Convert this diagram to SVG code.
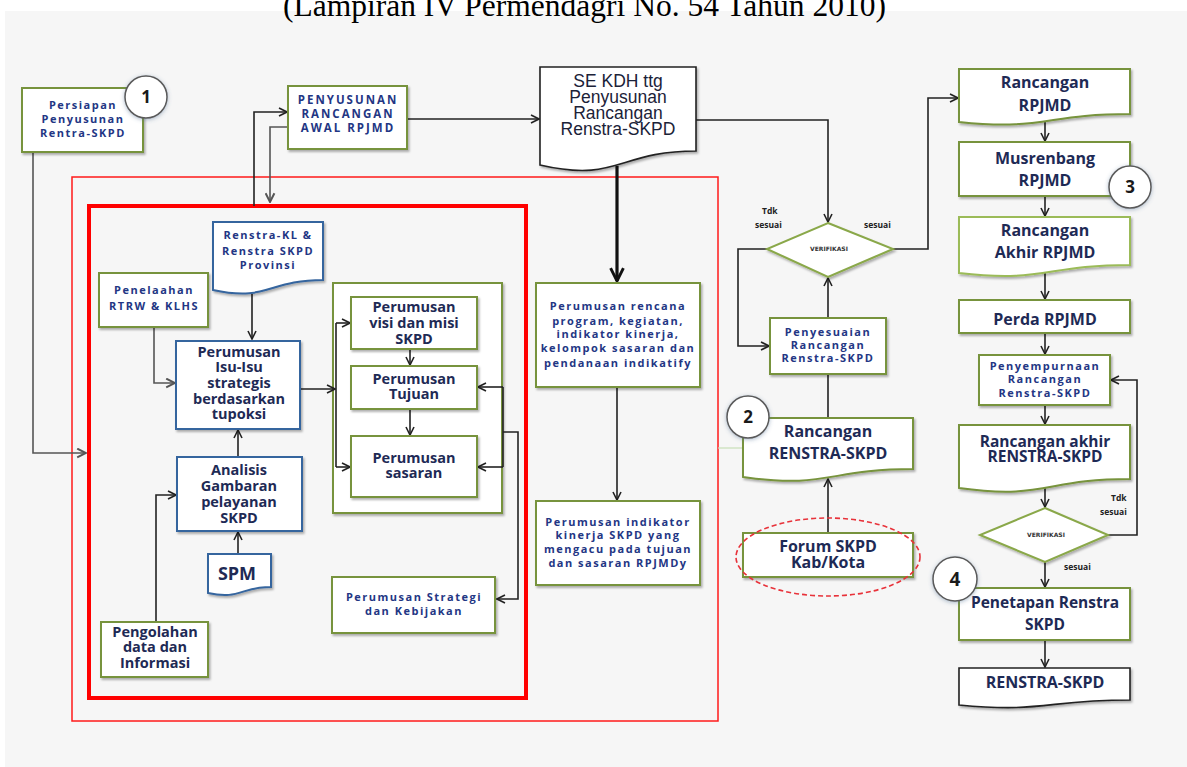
<svg xmlns="http://www.w3.org/2000/svg" width="1187" height="767" viewBox="0 0 1187 767">
  <defs>
    <style>
      .bg { fill: #f6f6f6; }
      .gbox { fill: #ffffff; stroke: #77933c; stroke-width: 2; }
      .lgbox { fill: #ffffff; stroke: #9bbb59; stroke-width: 2; }
      .bbox { fill: #ffffff; stroke: #36659e; stroke-width: 2; }
      .kbox { fill: #ffffff; stroke: #222222; stroke-width: 1.6; }
      .dia { fill: #ffffff; stroke: #8aa84a; stroke-width: 2; }
      .num { fill: #ffffff; stroke: #5a5a5a; stroke-width: 1.5; }
      .numt { font-family: "Open Sans", "DejaVu Sans", sans-serif; font-weight: 700; font-size: 17px; fill: #1a1a1a; text-anchor: middle; }
      .sm { font-family: "Open Sans", "DejaVu Sans", sans-serif; font-weight: 700; font-size: 11px; letter-spacing: 1.5px; fill: #233684; text-anchor: middle; }
      .md { font-family: "Open Sans", "DejaVu Sans", sans-serif; font-weight: 700; font-size: 14.5px; fill: #1e2a55; text-anchor: middle; }
      .lg { font-family: "Open Sans", "DejaVu Sans", sans-serif; font-weight: 700; font-size: 16px; fill: #1e2a55; text-anchor: middle; }
      .se { font-family: "Liberation Sans", Arial, sans-serif; font-size: 17.5px; fill: #1b2238; text-anchor: middle; }
      .tiny { font-family: "Open Sans", "DejaVu Sans", sans-serif; font-weight: 700; font-size: 8.5px; fill: #222222; }
      .ver { font-family: "DejaVu Sans", sans-serif; font-weight: 700; font-size: 6px; fill: #333333; text-anchor: middle; }
      .title { font-family: "Liberation Serif", "Times New Roman", serif; font-size: 31.5px; fill: #000000; }
      .ln { fill: none; stroke: #222222; stroke-width: 1.6; }
      .lng { fill: none; stroke: #555555; stroke-width: 1.6; }
    </style>
    <filter id="sh" x="-10%" y="-10%" width="125%" height="130%">
      <feDropShadow dx="1.5" dy="2" stdDeviation="1.3" flood-color="#000000" flood-opacity="0.3"/>
    </filter>
    <filter id="glow" x="-30%" y="-30%" width="160%" height="160%">
      <feDropShadow dx="0" dy="1" stdDeviation="2" flood-color="#4a6a90" flood-opacity="0.45"/>
    </filter>
    <marker id="ah" viewBox="0 0 10 10" refX="9" refY="5" markerWidth="10" markerHeight="10" markerUnits="userSpaceOnUse" orient="auto">
      <path d="M1,1 L9,5 L1,9" fill="none" stroke="#222222" stroke-width="1.6"/>
    </marker>
    <marker id="ahg" viewBox="0 0 10 10" refX="9" refY="5" markerWidth="11" markerHeight="11" markerUnits="userSpaceOnUse" orient="auto">
      <path d="M1,1 L9,5 L1,9" fill="none" stroke="#555555" stroke-width="1.8"/>
    </marker>
    <marker id="ahb" viewBox="0 0 10 10" refX="9" refY="5" markerWidth="16" markerHeight="16" markerUnits="userSpaceOnUse" orient="auto">
      <path d="M1,1 L9,5 L1,9" fill="none" stroke="#111111" stroke-width="1.8"/>
    </marker>
  </defs>

  <!-- page -->
  <rect x="0" y="0" width="1187" height="767" fill="#ffffff"/>
  <rect class="bg" x="5" y="11" width="1182" height="756"/>
  <text class="title" x="283" y="16">(Lampiran IV Permendagri No. 54 Tahun 2010)</text>

  <!-- frames -->
  <rect x="72" y="177" width="646" height="544" fill="none" stroke="#ff1a1a" stroke-width="1.5"/>
  <rect x="89" y="206" width="437" height="492" fill="none" stroke="#ff0000" stroke-width="4"/>
  <rect class="gbox" x="333" y="283" width="169" height="230" filter="url(#sh)"/>

  <!-- connectors -->
  <g id="connectors">
    <polyline class="lng" points="33,152 33,453 86,453" marker-end="url(#ahg)"/>
    <polyline class="ln" points="254,206 254,112 287,112" marker-end="url(#ah)"/>
    <polyline class="lng" points="288,127 270,127 270,202" marker-end="url(#ahg)"/>
    <line class="ln" x1="407" y1="119" x2="539" y2="119" marker-end="url(#ah)"/>
    <polyline class="ln" points="696,120 828,120 828,222" marker-end="url(#ah)"/>
    <line x1="617" y1="166" x2="617" y2="281" fill="none" stroke="#111111" stroke-width="3.2" marker-end="url(#ahb)"/>
    <line class="ln" x1="617" y1="387" x2="617" y2="500" marker-end="url(#ah)"/>
    <polyline class="ln" points="893,249 928,249 928,98 958,98" marker-end="url(#ah)"/>
    <polyline class="ln" points="767,249 738,249 738,346 769,346" marker-end="url(#ah)"/>
    <line class="ln" x1="828" y1="318" x2="828" y2="278" marker-end="url(#ah)"/>
    <line class="ln" x1="828" y1="418" x2="828" y2="374"/>
    <line class="ln" x1="828" y1="533" x2="828" y2="479" marker-end="url(#ah)"/>
    <line x1="718" y1="448" x2="743" y2="448" stroke="#c8e0b8" stroke-width="1.2"/>
    <line class="ln" x1="1045" y1="122" x2="1045" y2="141" marker-end="url(#ah)"/>
    <line class="ln" x1="1045" y1="196" x2="1045" y2="216" marker-end="url(#ah)"/>
    <line class="ln" x1="1045" y1="273" x2="1045" y2="299" marker-end="url(#ah)"/>
    <line class="ln" x1="1045" y1="333" x2="1045" y2="354" marker-end="url(#ah)"/>
    <line class="ln" x1="1045" y1="405" x2="1045" y2="424" marker-end="url(#ah)"/>
    <line class="ln" x1="1045" y1="488" x2="1045" y2="507" marker-end="url(#ah)"/>
    <line class="ln" x1="1045" y1="562" x2="1045" y2="587" marker-end="url(#ah)"/>
    <line class="ln" x1="1045" y1="640" x2="1045" y2="667" marker-end="url(#ah)"/>
    <polyline class="ln" points="1108,535 1137,535 1137,380 1111,380" marker-end="url(#ah)"/>
    <line class="ln" x1="252" y1="294" x2="252" y2="339" marker-end="url(#ah)"/>
    <polyline class="lng" points="154,327 154,383 175,383" marker-end="url(#ahg)"/>
    <line class="ln" x1="300" y1="389" x2="335" y2="389" marker-end="url(#ah)"/>
    <line class="ln" x1="336" y1="323" x2="336" y2="467"/>
    <line class="ln" x1="336" y1="323" x2="350" y2="323" marker-end="url(#ah)"/>
    <line class="ln" x1="336" y1="467" x2="350" y2="467" marker-end="url(#ah)"/>
    <line class="ln" x1="410" y1="349" x2="410" y2="365" marker-end="url(#ah)"/>
    <line class="ln" x1="410" y1="409" x2="410" y2="435" marker-end="url(#ah)"/>
    <line class="ln" x1="503" y1="387" x2="503" y2="467"/>
    <line class="ln" x1="503" y1="387" x2="478" y2="387" marker-end="url(#ah)"/>
    <line class="ln" x1="503" y1="467" x2="478" y2="467" marker-end="url(#ah)"/>
    <polyline class="ln" points="503,432 518,432 518,599 497,599" marker-end="url(#ah)"/>
    <line class="ln" x1="238" y1="457" x2="238" y2="430" marker-end="url(#ah)"/>
    <line class="ln" x1="238" y1="554" x2="238" y2="532" marker-end="url(#ah)"/>
    <polyline class="ln" points="156,622 156,495 176,495" marker-end="url(#ah)"/>
  </g>

  <!-- nodes -->
  <g id="persiapan">
    <rect class="gbox" x="22" y="88" width="121" height="64" filter="url(#sh)"/>
    <text class="sm" x="83" y="109">Persiapan</text>
    <text class="sm" x="83" y="123">Penyusunan</text>
    <text class="sm" x="83" y="137">Rentra-SKPD</text>
  </g>
  <g id="badge-1">
    <circle class="num" cx="146" cy="97" r="21" filter="url(#glow)"/>
    <text class="numt" x="146" y="103">1</text>
  </g>

  <g id="penyusunan-awal">
    <rect class="gbox" x="288" y="86" width="119" height="63" filter="url(#sh)"/>
    <text class="sm" x="348" y="104" style="font-size:11.5px;letter-spacing:2px">PENYUSUNAN</text>
    <text class="sm" x="348" y="118" style="font-size:11.5px;letter-spacing:2px">RANCANGAN</text>
    <text class="sm" x="348" y="132" style="font-size:11.5px;letter-spacing:2px">AWAL  RPJMD</text>
  </g>

  <g id="se-kdh">
    <path class="kbox" d="M540,67 H696 V151 C618,151 618,183 540,165 Z" filter="url(#sh)"/>
    <text class="se" x="618" y="87">SE KDH  ttg</text>
    <text class="se" x="618" y="103">Penyusunan</text>
    <text class="se" x="618" y="119">Rancangan</text>
    <text class="se" x="618" y="135">Renstra-SKPD</text>
  </g>

  <g id="renstra-kl">
    <path class="bbox" d="M213,222 H323 V280 C268,280 268,302 213,290 Z" filter="url(#sh)"/>
    <text class="sm" x="268" y="239">Renstra-KL &amp;</text>
    <text class="sm" x="268" y="255">Renstra SKPD</text>
    <text class="sm" x="268" y="269">Provinsi</text>
  </g>

  <g id="penelaahan">
    <rect class="gbox" x="99" y="273" width="109" height="54" filter="url(#sh)"/>
    <text class="sm" x="154" y="294">Penelaahan</text>
    <text class="sm" x="154" y="310">RTRW  &amp; KLHS</text>
  </g>

  <g id="isu-strategis">
    <rect class="bbox" x="176" y="341" width="124" height="88" filter="url(#sh)"/>
    <text class="md" x="239" y="357">Perumusan</text>
    <text class="md" x="239" y="372">Isu-Isu</text>
    <text class="md" x="239" y="388">strategis</text>
    <text class="md" x="239" y="404">berdasarkan</text>
    <text class="md" x="239" y="419">tupoksi</text>
  </g>

  <g id="analisis">
    <rect class="bbox" x="177" y="457" width="125" height="74" filter="url(#sh)"/>
    <text class="md" x="239" y="475">Analisis</text>
    <text class="md" x="239" y="491">Gambaran</text>
    <text class="md" x="239" y="507">pelayanan</text>
    <text class="md" x="239" y="523">SKPD</text>
  </g>

  <g id="spm">
    <path class="bbox" d="M208,554 H271 V587 C240,587 240,600 208,593 Z" filter="url(#sh)"/>
    <text class="md" x="237" y="580" style="font-size:18px">SPM</text>
  </g>

  <g id="pengolahan">
    <rect class="gbox" x="101" y="622" width="107" height="55" filter="url(#sh)"/>
    <text class="md" x="155" y="637">Pengolahan</text>
    <text class="md" x="155" y="652">data dan</text>
    <text class="md" x="155" y="668">Informasi</text>
  </g>

  <g id="visi-misi">
    <rect class="gbox" x="351" y="297" width="126" height="52" filter="url(#sh)"/>
    <text class="md" x="414" y="312">Perumusan</text>
    <text class="md" x="414" y="328">visi dan misi</text>
    <text class="md" x="414" y="344">SKPD</text>
  </g>

  <g id="tujuan">
    <rect class="gbox" x="351" y="366" width="126" height="43" filter="url(#sh)"/>
    <text class="md" x="414" y="384">Perumusan</text>
    <text class="md" x="414" y="399">Tujuan</text>
  </g>

  <g id="sasaran">
    <rect class="gbox" x="351" y="436" width="126" height="61" filter="url(#sh)"/>
    <text class="md" x="414" y="463">Perumusan</text>
    <text class="md" x="414" y="478">sasaran</text>
  </g>

  <g id="strategi">
    <rect class="gbox" x="332" y="577" width="163" height="56" filter="url(#sh)"/>
    <text class="sm" x="414" y="601">Perumusan Strategi</text>
    <text class="sm" x="414" y="615">dan Kebijakan</text>
  </g>

  <g id="rencana-program">
    <rect class="gbox" x="536" y="283" width="164" height="104" filter="url(#sh)"/>
    <text class="sm" x="618" y="310">Perumusan rencana</text>
    <text class="sm" x="618" y="325">program, kegiatan,</text>
    <text class="sm" x="618" y="338">indikator kinerja,</text>
    <text class="sm" x="618" y="352">kelompok sasaran dan</text>
    <text class="sm" x="618" y="367">pendanaan indikatify</text>
  </g>

  <g id="indikator-kinerja">
    <rect class="gbox" x="536" y="501" width="164" height="84" filter="url(#sh)"/>
    <text class="sm" x="618" y="526">Perumusan indikator</text>
    <text class="sm" x="618" y="539">kinerja SKPD yang</text>
    <text class="sm" x="618" y="553">mengacu pada tujuan</text>
    <text class="sm" x="618" y="567">dan sasaran   RPJMDy</text>
  </g>

  <g id="verifikasi-1">
    <polygon class="dia" points="828,223 893,249 828,277 767,249" filter="url(#sh)"/>
    <text class="ver" x="829" y="251">VERIFIKASI</text>
    <text class="tiny" x="762" y="214">Tdk</text>
    <text class="tiny" x="755" y="228">sesuai</text>
    <text class="tiny" x="864" y="228">sesuai</text>
  </g>

  <g id="penyesuaian">
    <rect class="gbox" x="770" y="318" width="116" height="56" filter="url(#sh)"/>
    <text class="sm" x="828" y="336">Penyesuaian</text>
    <text class="sm" x="828" y="349">Rancangan</text>
    <text class="sm" x="828" y="362">Renstra-SKPD</text>
  </g>

  <g id="rancangan-renstra">
    <path class="gbox" d="M743,418 H913 V469 C828,469 828,489 743,477 Z" filter="url(#sh)"/>
    <text class="lg" x="828" y="437">Rancangan</text>
    <text class="lg" x="828" y="459">RENSTRA-SKPD</text>
  </g>
  <g id="badge-2">
    <circle class="num" cx="748" cy="417" r="21" filter="url(#glow)"/>
    <text class="numt" x="748" y="423">2</text>
  </g>

  <g id="forum-skpd">
    <rect class="gbox" x="743" y="533" width="170" height="44" filter="url(#sh)"/>
    <text class="lg" x="828" y="552">Forum SKPD</text>
    <text class="lg" x="828" y="568">Kab/Kota</text>
    <ellipse cx="828" cy="557" rx="92" ry="39" fill="none" stroke="#e8323a" stroke-width="1.6" stroke-dasharray="5 3"/>
  </g>

  <g id="rancangan-rpjmd">
    <path class="gbox" d="M959,69 H1130 V114 C1045,114 1045,131 959,122 Z" filter="url(#sh)"/>
    <text class="lg" x="1045" y="88">Rancangan</text>
    <text class="lg" x="1045" y="111">RPJMD</text>
  </g>

  <g id="musrenbang">
    <rect class="gbox" x="959" y="142" width="171" height="54" filter="url(#sh)"/>
    <text class="lg" x="1045" y="164">Musrenbang</text>
    <text class="lg" x="1045" y="186">RPJMD</text>
  </g>
  <g id="badge-3">
    <circle class="num" cx="1130" cy="187" r="21" filter="url(#glow)"/>
    <text class="numt" x="1130" y="193">3</text>
  </g>

  <g id="rancangan-akhir-rpjmd">
    <path class="lgbox" d="M959,217 H1130 V265 C1045,265 1045,283 959,273 Z" filter="url(#sh)"/>
    <text class="lg" x="1045" y="236">Rancangan</text>
    <text class="lg" x="1045" y="258">Akhir RPJMD</text>
  </g>

  <g id="perda-rpjmd">
    <rect class="gbox" x="959" y="300" width="171" height="33" filter="url(#sh)"/>
    <text class="lg" x="1045" y="325">Perda RPJMD</text>
  </g>

  <g id="penyempurnaan">
    <rect class="gbox" x="979" y="355" width="131" height="50" filter="url(#sh)"/>
    <text class="sm" x="1045" y="370">Penyempurnaan</text>
    <text class="sm" x="1045" y="383">Rancangan</text>
    <text class="sm" x="1045" y="397">Renstra-SKPD</text>
  </g>

  <g id="rancangan-akhir-renstra">
    <path class="gbox" d="M959,425 H1130 V479 C1045,479 1045,500 959,488 Z" filter="url(#sh)"/>
    <text class="lg" x="1045" y="447" style="font-size:15.5px">Rancangan akhir</text>
    <text class="lg" x="1045" y="462" style="font-size:15.5px">RENSTRA-SKPD</text>
  </g>

  <g id="verifikasi-2">
    <polygon class="dia" points="1045,508 1108,535 1045,562 980,535" filter="url(#sh)"/>
    <text class="ver" x="1046" y="537">VERIFIKASI</text>
    <text class="tiny" x="1111" y="501">Tdk</text>
    <text class="tiny" x="1100" y="515">sesuai</text>
    <text class="tiny" x="1064" y="570">sesuai</text>
  </g>

  <g id="penetapan">
    <rect class="gbox" x="959" y="588" width="171" height="52" filter="url(#sh)"/>
    <text class="lg" x="1045" y="608" style="font-size:15.5px">Penetapan Renstra</text>
    <text class="lg" x="1045" y="630" style="font-size:15.5px">SKPD</text>
  </g>
  <g id="badge-4">
    <circle class="num" cx="955" cy="579" r="22" filter="url(#glow)"/>
    <text class="numt" x="955" y="586" style="font-size:19px">4</text>
  </g>

  <g id="renstra-skpd">
    <path class="kbox" d="M959,668 H1130 V700 C1045,700 1045,713 959,705 Z" filter="url(#sh)"/>
    <text class="lg" x="1045" y="688">RENSTRA-SKPD</text>
  </g>
</svg>
